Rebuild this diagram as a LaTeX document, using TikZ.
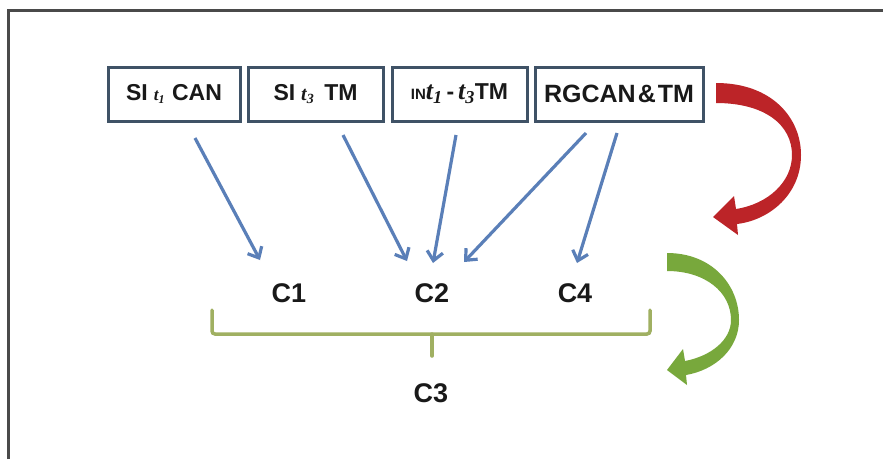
\documentclass[tikz,border=0pt]{standalone}
\usepackage{fontspec}
\setmainfont{Liberation Sans}
\newfontfamily\serifit{Liberation Serif}
\usetikzlibrary{arrows.meta}
\definecolor{boxline}{HTML}{3F5266}
\definecolor{arrblue}{HTML}{5A7FB8}
\definecolor{bracegreen}{HTML}{A0B062}
\definecolor{redarr}{HTML}{BC2428}
\definecolor{greenarr}{HTML}{78A83C}
\definecolor{framegray}{HTML}{4A4A4A}
\newcommand{\tsub}[3]{{\fontsize{#3}{#3}\selectfont\serifit\itshape #1\textsubscript{#2}}}
\begin{document}
\begin{tikzpicture}[x=1pt,y=-1pt,
  boxnode/.style={draw=boxline,line width=3pt,fill=white,minimum height=54pt,inner sep=0pt,
    font=\fontsize{23}{23}\selectfont\bfseries,text=black!90},
  clabel/.style={font=\fontsize{27}{27}\selectfont\bfseries,text=black!90,inner sep=0pt},
  bluearrow/.style={draw=arrblue,line width=3.2pt,
    -{Straight Barb[length=9pt,width=16pt,line width=3.2pt]}},
  bracestyle/.style={draw=bracegreen,line width=3.5pt,line cap=round}]
\useasboundingbox[fill=white] (0,0) rectangle (883,459);
% frame
\draw[framegray,line width=3.5pt] (8.5,459) -- (8.5,10.5) -- (883,10.5);
% boxes
\node[boxnode,minimum width=132pt] (b1) at (174,94) {SI\hspace{6pt}\tsub{t}{1}{17}\hspace{7pt}CAN};
\node[boxnode,minimum width=135pt] (b2) at (315.5,94) {SI\hspace{6pt}\tsub{t}{3}{20}\hspace{10pt}TM};
\node[boxnode,minimum width=135pt] (b3) at (459.5,94) {{\fontsize{15}{15}\selectfont IN}\tsub{t}{1}{26}\,-\,\tsub{t}{3}{26}TM};
\node[boxnode,minimum width=168pt,font=\fontsize{25}{25}\selectfont\bfseries] (b4) at (619,94) {RGCAN\hspace{2pt}\&\hspace{2pt}TM};
% labels
\node[clabel] (c1) at (289,293) {C1};
\node[clabel] (c2) at (432,293) {C2};
\node[clabel] (c4) at (575,293) {C4};
\node[clabel] (c3) at (431,393) {C3};
% arrow endpoints
\coordinate (s1) at (195,138); \coordinate (e1) at (260,260);
\coordinate (s2) at (343,135); \coordinate (e2) at (407,261);
\coordinate (s3) at (456,135); \coordinate (e3) at (433,263);
\coordinate (s4) at (586,133); \coordinate (e4) at (464,262);
\coordinate (s5) at (617,133); \coordinate (e5) at (577,263);
\draw[bluearrow] (s1) -- (e1);
\draw[bluearrow] (s2) -- (e2);
\draw[bluearrow] (s3) -- (e3);
\draw[bluearrow] (s4) -- (e4);
\draw[bluearrow] (s5) -- (e5);
% brace
\coordinate (bl) at (212,310); \coordinate (br) at (650,310);
\coordinate (bm) at (432,334); \coordinate (bt) at (432,356);
\draw[bracestyle,rounded corners=3pt] (bl) -- (bl |- bm) -- (br |- bm) -- (br);
\draw[bracestyle] (bm) -- (bt);
% red curved arrow
\fill[redarr] (716,83) .. controls (772,83) and (801,118) .. (801,155)
  .. controls (801,194) and (770,220) .. (737,224)
  -- (738,235) -- (713,217) -- (734,196) -- (736,209)
  .. controls (768,204) and (792,182) .. (792,155)
  .. controls (792,125) and (765,103) .. (716,103) -- cycle;
% green curved arrow
\fill[greenarr] (667,253) .. controls (712,253) and (739,285) .. (739,320)
  .. controls (739,349) and (715,370) .. (686,375)
  -- (687,385) -- (667,370) -- (683,349) -- (685,361)
  .. controls (711,356) and (731,340) .. (731,320)
  .. controls (731,292) and (705,271) .. (667,271) -- cycle;
\end{tikzpicture}
\end{document}
